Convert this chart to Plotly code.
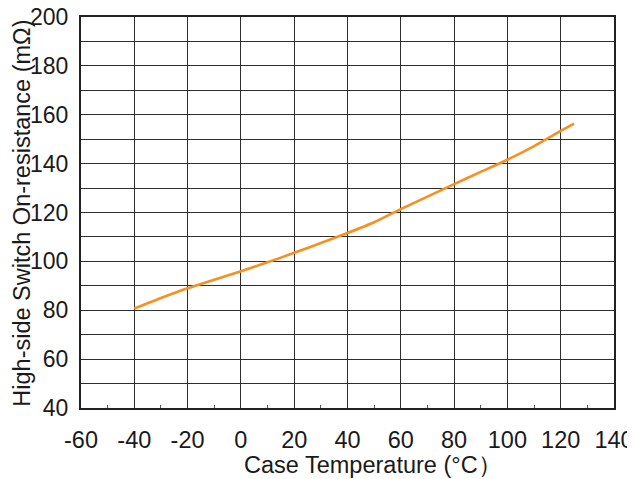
import plotly.graph_objects as go

temperature = [-40, -30, -20, -10, 0, 10, 20, 30, 40, 50, 60, 70, 80, 90, 100, 110, 120, 125]
resistance = [80.7, 85.0, 89.0, 92.5, 96.0, 99.6, 103.5, 107.5, 111.6, 116.0, 121.4, 126.5, 131.6, 136.6, 141.6, 147.2, 153.4, 156.4]

x_ticks = [-60, -40, -20, 0, 20, 40, 60, 80, 100, 120, 140]
y_ticks = [40, 60, 80, 100, 120, 140, 160, 180, 200]

x_title = "Case Temperature (°C）"
y_title = "High-side Switch On-resistance (mΩ)"

grid = "#2e2e2e"
font = "Liberation Sans, Arial, sans-serif"
txt = "#1a1a1a"

fig = go.Figure()
fig.add_trace(go.Scatter(x=temperature, y=resistance, mode="lines",
                         line=dict(color="#F7901E", width=2.6, shape="spline", smoothing=0.6),
                         showlegend=False))

# page body has an 8px margin, so the figure is sized to fit the 635x479 window
fig.update_layout(
    width=627, height=471,
    margin=dict(l=73, r=21, t=9, b=71),
    paper_bgcolor="white", plot_bgcolor="white",
    font=dict(family=font, color=txt),
    xaxis=dict(range=[-60, 140], tickvals=x_ticks, ticktext=[str(v) for v in x_ticks],
               showgrid=True, gridcolor=grid, gridwidth=1,
               showline=True, linecolor="#222", linewidth=2, mirror=True,
               ticks="", ticklabelstandoff=10, automargin=False, ticklabeloverflow="allow",
               minor=dict(tickvals=[v + 10 for v in x_ticks[:-1]], ticks="inside", ticklen=3,
                          tickcolor="#555", showgrid=False),
               tickfont=dict(size=23.5, family=font, color=txt),
               zeroline=False),
    yaxis=dict(range=[40, 200], tickvals=y_ticks, ticktext=[str(v) for v in y_ticks],
               showgrid=True, gridcolor=grid, gridwidth=1,
               showline=True, linecolor="#222", linewidth=2, mirror=True,
               ticks="", ticklabelstandoff=6, automargin=False, ticklabeloverflow="allow",
               minor=dict(tickvals=[v + 10 for v in y_ticks[:-1]], showgrid=True,
                          gridcolor=grid, gridwidth=1),
               tickfont=dict(size=23, family=font, color=txt),
               zeroline=False),
)

fig.add_annotation(text=x_title, xref="paper", yref="paper", x=0.548, y=0,
                   xanchor="center", yanchor="middle", yshift=-57, showarrow=False,
                   font=dict(size=23.5, family=font, color=txt))
fig.add_annotation(text=y_title, xref="paper", yref="paper", x=0, y=0.497,
                   xanchor="center", yanchor="middle", xshift=-59, textangle=-90, showarrow=False,
                   font=dict(size=23.5, family=font, color=txt))

fig.write_html("out.html")
